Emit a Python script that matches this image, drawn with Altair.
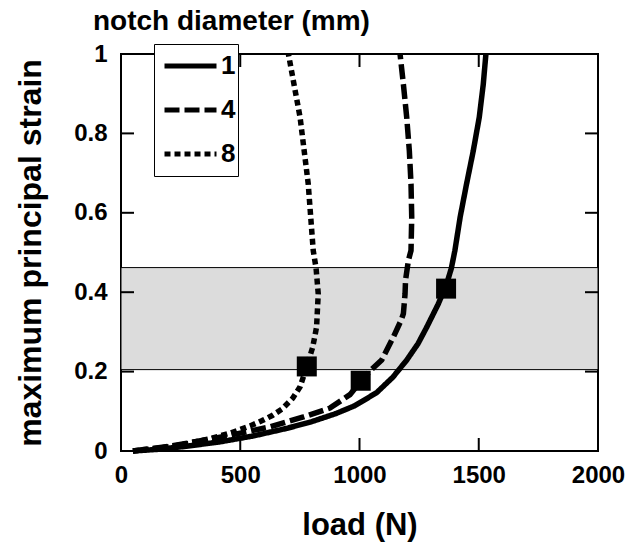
import altair as alt
import pandas as pd

# ---- data ----
series_names = ["1", "4", "8"]

load_1 = [50, 150, 275, 415, 555, 695, 800, 900, 980, 1072, 1140, 1198, 1245, 1282, 1330, 1365, 1385, 1400, 1422, 1449, 1477, 1502, 1519, 1530]
strain_1 = [0.0, 0.004, 0.012, 0.023, 0.038, 0.057, 0.074, 0.094, 0.114, 0.147, 0.186, 0.229, 0.270, 0.312, 0.370, 0.420, 0.460, 0.505, 0.589, 0.673, 0.756, 0.840, 0.924, 1.0]

load_4 = [50, 205, 345, 485, 625, 765, 876, 960, 1005, 1050, 1093, 1142, 1175, 1184, 1191, 1193, 1205, 1216, 1219, 1216, 1209, 1198, 1184, 1170]
strain_4 = [0.0, 0.012, 0.027, 0.043, 0.061, 0.086, 0.108, 0.142, 0.175, 0.205, 0.229, 0.287, 0.330, 0.346, 0.396, 0.430, 0.480, 0.505, 0.589, 0.673, 0.756, 0.840, 0.924, 1.0]

load_8 = [50, 134, 205, 289, 373, 457, 541, 590, 636, 676, 720, 751, 779, 804, 820, 827, 818, 806, 785, 751, 702]
strain_8 = [0.0, 0.006, 0.011, 0.020, 0.031, 0.045, 0.063, 0.076, 0.090, 0.106, 0.133, 0.162, 0.213, 0.262, 0.312, 0.396, 0.460, 0.505, 0.673, 0.840, 1.0]

marker_notch = ["8", "4", "1"]
marker_load = [779, 1005, 1363]
marker_strain = [0.213, 0.177, 0.409]

band_low = [0.205]
band_high = [0.462]

x_ticks = [0, 500, 1000, 1500, 2000]
y_ticks = [0, 0.2, 0.4, 0.6, 0.8, 1]

# ---- tables ----
rows = []
for name, xs, ys in zip(series_names, [load_1, load_4, load_8], [strain_1, strain_4, strain_8]):
    for i, (x, y) in enumerate(zip(xs, ys)):
        rows.append({"notch": name, "load": x, "strain": y, "idx": i})
lines_df = pd.DataFrame(rows)
markers_df = pd.DataFrame({"notch": marker_notch, "load": marker_load, "strain": marker_strain})
band_df = pd.DataFrame({"lo": band_low, "hi": band_high, "x0": [0], "x1": [2000]})
xt_df = pd.DataFrame({"v": x_ticks})
yt_df = pd.DataFrame({"v": y_ticks})

FONT = "Liberation Sans"
W, H = 477, 397
TICK = 13

xscale = alt.Scale(domain=[0, 2000], nice=False, zero=False)
yscale = alt.Scale(domain=[0, 1], nice=False, zero=False)

x_axis = alt.Axis(values=x_ticks, format="d", labelFlush=False, labelFont=FONT,
                  labelFontSize=24, labelFontWeight="bold", labelColor="black",
                  labelPadding=12, ticks=False, domain=False, grid=False,
                  title="load (N)", titleFont=FONT, titleFontSize=31,
                  titleFontWeight="bold", titleColor="black", titlePadding=23)
y_axis = alt.Axis(values=y_ticks, labelExpr="format(datum.value, '~g')", labelFlush=False,
                  labelFont=FONT, labelFontSize=24, labelFontWeight="bold",
                  labelColor="black", labelPadding=14, ticks=False, domain=False, grid=False,
                  title="maximum principal strain",
                  titleFont=FONT, titleFontSize=32, titleFontWeight="bold",
                  titleColor="black", titlePadding=26)


def X(field):
    return alt.X(field, scale=xscale, axis=x_axis)


def Y(field):
    return alt.Y(field, scale=yscale, axis=y_axis)


band = alt.Chart(band_df).mark_rect(fill="#dcdcdc", stroke="black", strokeWidth=1).encode(
    x=X("x0:Q"), x2="x1:Q", y=Y("lo:Q"), y2="hi:Q",
)

# inward tick marks on all four sides, positioned by the scales
tick_style = dict(color="black", strokeWidth=2)
ticks_bottom = alt.Chart(xt_df).mark_rule(**tick_style).encode(
    x=X("v:Q"), y=alt.value(H), y2=alt.value(H - TICK))
ticks_top = alt.Chart(xt_df).mark_rule(**tick_style).encode(
    x=X("v:Q"), y=alt.value(0), y2=alt.value(TICK))
ticks_left = alt.Chart(yt_df).mark_rule(**tick_style).encode(
    y=Y("v:Q"), x=alt.value(0), x2=alt.value(TICK))
ticks_right = alt.Chart(yt_df).mark_rule(**tick_style).encode(
    y=Y("v:Q"), x=alt.value(W), x2=alt.value(W - TICK))

lines = alt.Chart(lines_df).mark_line(color="black", strokeWidth=5.5, strokeCap="butt").encode(
    x=X("load:Q"),
    y=Y("strain:Q"),
    strokeDash=alt.StrokeDash(
        "notch:N",
        scale=alt.Scale(domain=series_names, range=[[1, 0], [15, 5], [6, 4]]),
        legend=alt.Legend(orient="none", legendX=33, legendY=-10, title=None,
                          symbolType="stroke", symbolSize=2704, symbolStrokeWidth=5,
                          symbolStrokeColor="black", labelFont=FONT, labelFontSize=26,
                          labelFontWeight="bold", labelColor="black", labelOffset=2,
                          padding=2, clipHeight=40, rowPadding=4, symbolOffset=6,
                          fillColor="white", strokeColor="black"),
    ),
    order=alt.Order("idx:Q"),
)

markers = alt.Chart(markers_df).mark_square(size=400, color="black", opacity=1).encode(
    x=X("load:Q"), y=Y("strain:Q"),
)

chart = alt.layer(band, ticks_bottom, ticks_top, ticks_left, ticks_right, lines, markers).properties(
    width=W, height=H,
    title=alt.TitleParams("notch diameter (mm)", anchor="start", frame="group", dx=-28,
                          dy=36, offset=20, baseline="alphabetic", font=FONT, fontSize=28,
                          fontWeight="bold", color="black"),
    autosize=alt.AutoSizeParams(type="none"),
    padding={"left": 121, "top": 54, "right": 36, "bottom": 94},
).configure_view(stroke="black", strokeWidth=2)

chart.save("out.html", embed_options={"renderer": "svg", "actions": False})
